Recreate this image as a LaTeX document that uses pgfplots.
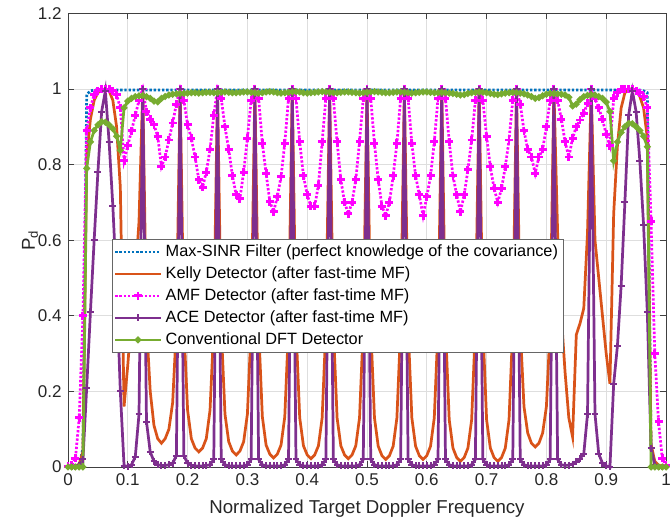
\documentclass[border=0pt]{standalone}
\usepackage{fontspec}
\setmainfont{Liberation Sans}
\usepackage{pgfplots}
\usepackage{pgfplotstable}
\pgfplotsset{compat=1.18}

\definecolor{sinrc}{RGB}{0,114,189}
\definecolor{kellyc}{RGB}{217,83,25}
\definecolor{amfc}{RGB}{255,0,255}
\definecolor{acec}{RGB}{126,47,142}
\definecolor{dftc}{RGB}{119,172,48}

% Pd vs normalized Doppler, grid step 1/160
\pgfplotstableread{
x kelly amf ace dft sinr
0 0 0.002 0 0 0
0.00625 0 0.005 0 0 0
0.0125 0.002 0.023 0 0 0
0.01875 0.008 0.13 0.005 0 0.003
0.025 0.04 0.4 0.02 0 0.05
0.03125 0.82 0.89 0.21 0.79 0.985
0.0375 0.92 0.95 0.41 0.86 0.995
0.04375 0.97 0.985 0.60 0.89 0.997
0.05 0.99 0.995 0.78 0.905 0.997
0.05625 0.998 1.0 0.94 0.913 0.997
0.0625 1.0 1.0 0.995 0.912 0.997
0.06875 0.995 1.0 0.86 0.905 0.997
0.075 0.97 0.995 0.69 0.895 0.997
0.08125 0.9 0.985 0.48 0.875 0.997
0.0875 0.74 0.95 0.2 0.838 0.997
0.09375 0.16 0.81 0.003 0.95 0.997
0.1 0.27 0.85 0.002 0.968 0.997
0.10625 0.4 0.89 0.006 0.975 0.997
0.1125 0.5 0.93 0.027 0.98 0.997
0.11875 0.65 0.97 0.14 0.982 0.997
0.125 1 1 1 0.983 0.997
0.13125 0.38 0.94 0.12 0.98 0.997
0.1375 0.2 0.92 0.04 0.975 0.997
0.14375 0.11 0.905 0.015 0.968 0.997
0.15 0.075 0.875 0.006 0.966 0.997
0.15625 0.063 0.795 0.004 0.975 0.997
0.1625 0.075 0.82 0.004 0.98 0.997
0.16875 0.1 0.865 0.006 0.984 0.997
0.175 0.17 0.91 0.01 0.986 0.997
0.18125 0.37 0.96 0.03 0.987 0.997
0.1875 1 1 1 0.988 0.997
0.19375 0.37 0.97 0.03 0.988 0.997
0.2 0.15 0.905 0.01 0.989 0.997
0.20625 0.075 0.87 0.004 0.99 0.997
0.2125 0.05 0.82 0.003 0.99 0.997
0.21875 0.04 0.76 0.003 0.989 0.997
0.225 0.05 0.74 0.003 0.99 0.997
0.23125 0.075 0.78 0.004 0.991 0.997
0.2375 0.15 0.84 0.006 0.991 0.997
0.24375 0.37 0.93 0.02 0.99 0.997
0.25 1 1 1 0.99 0.997
0.25625 0.37 0.975 0.02 0.991 0.997
0.2625 0.14 0.9 0.006 0.992 0.997
0.26875 0.067 0.84 0.003 0.991 0.997
0.275 0.042 0.77 0.003 0.99 0.997
0.28125 0.032 0.72 0.003 0.99 0.997
0.2875 0.042 0.71 0.003 0.991 0.997
0.29375 0.067 0.78 0.003 0.992 0.997
0.3 0.14 0.87 0.006 0.992 0.997
0.30625 0.37 0.97 0.02 0.991 0.997
0.3125 1 1 1 0.99 0.997
0.31875 0.37 0.975 0.02 0.989 0.997
0.325 0.133 0.856 0.006 0.99 0.997
0.33125 0.058 0.777 0.003 0.992 0.997
0.3375 0.034 0.702 0.003 0.993 0.997
0.34375 0.024 0.675 0.003 0.992 0.997
0.35 0.034 0.715 0.003 0.99 0.997
0.35625 0.058 0.768 0.003 0.989 0.997
0.3625 0.133 0.856 0.006 0.99 0.997
0.36875 0.37 0.975 0.02 0.991 0.997
0.375 1 1 1 0.992 0.997
0.38125 0.37 0.975 0.02 0.993 0.997
0.3875 0.13 0.86 0.006 0.992 0.997
0.39375 0.056 0.77 0.003 0.99 0.997
0.4 0.032 0.72 0.003 0.989 0.997
0.40625 0.022 0.69 0.003 0.99 0.997
0.4125 0.032 0.69 0.003 0.991 0.997
0.41875 0.056 0.745 0.003 0.992 0.997
0.425 0.13 0.86 0.006 0.993 0.997
0.43125 0.37 0.975 0.02 0.992 0.997
0.4375 1 1 1 0.991 0.997
0.44375 0.37 0.975 0.02 0.99 0.997
0.45 0.13 0.86 0.006 0.99 0.997
0.45625 0.056 0.76 0.003 0.991 0.997
0.4625 0.032 0.70 0.003 0.992 0.997
0.46875 0.022 0.67 0.003 0.992 0.997
0.475 0.032 0.70 0.003 0.991 0.997
0.48125 0.056 0.76 0.003 0.99 0.997
0.4875 0.13 0.86 0.006 0.989 0.997
0.49375 0.37 0.975 0.02 0.99 0.997
0.5 1 1 1 0.991 0.997
0.50625 0.37 0.975 0.02 0.992 0.997
0.5125 0.13 0.856 0.006 0.993 0.997
0.51875 0.055 0.76 0.003 0.992 0.997
0.525 0.03 0.69 0.003 0.991 0.997
0.53125 0.02 0.665 0.003 0.99 0.997
0.5375 0.03 0.70 0.003 0.99 0.997
0.54375 0.055 0.77 0.003 0.991 0.997
0.55 0.13 0.856 0.006 0.992 0.997
0.55625 0.37 0.975 0.02 0.992 0.997
0.5625 1 1 1 0.991 0.997
0.56875 0.37 0.975 0.02 0.99 0.997
0.575 0.13 0.856 0.006 0.989 0.997
0.58125 0.055 0.77 0.003 0.99 0.997
0.5875 0.03 0.72 0.003 0.991 0.997
0.59375 0.02 0.665 0.003 0.992 0.997
0.6 0.03 0.715 0.003 0.992 0.997
0.60625 0.055 0.77 0.003 0.991 0.997
0.6125 0.13 0.86 0.006 0.99 0.997
0.61875 0.37 0.975 0.02 0.99 0.997
0.625 1 1 1 0.991 0.997
0.63125 0.37 0.975 0.02 0.99 0.997
0.6375 0.125 0.86 0.006 0.989 0.997
0.64375 0.05 0.77 0.003 0.988 0.997
0.65 0.025 0.72 0.003 0.986 0.997
0.65625 0.015 0.675 0.003 0.984 0.997
0.6625 0.025 0.72 0.003 0.985 0.997
0.66875 0.05 0.786 0.003 0.988 0.997
0.675 0.125 0.865 0.006 0.99 0.997
0.68125 0.37 0.97 0.02 0.991 0.997
0.6875 1 1 1 0.992 0.997
0.69375 0.37 0.97 0.02 0.991 0.997
0.7 0.125 0.874 0.006 0.99 0.997
0.70625 0.05 0.794 0.003 0.988 0.997
0.7125 0.025 0.737 0.003 0.986 0.997
0.71875 0.015 0.70 0.003 0.985 0.997
0.725 0.025 0.737 0.003 0.987 0.997
0.73125 0.05 0.794 0.003 0.989 0.997
0.7375 0.125 0.865 0.006 0.99 0.997
0.74375 0.37 0.97 0.02 0.991 0.997
0.75 1 1 1 0.99 0.997
0.75625 0.37 0.96 0.02 0.989 0.997
0.7625 0.16 0.89 0.006 0.987 0.997
0.76875 0.09 0.84 0.003 0.984 0.997
0.775 0.063 0.82 0.003 0.98 0.997
0.78125 0.053 0.777 0.003 0.975 0.997
0.7875 0.063 0.82 0.003 0.977 0.997
0.79375 0.09 0.84 0.003 0.982 0.997
0.8 0.16 0.9 0.006 0.986 0.997
0.80625 0.37 0.97 0.02 0.988 0.997
0.8125 1 1 1 0.988 0.997
0.81875 0.62 0.97 0.02 0.987 0.997
0.825 0.4 0.92 0.006 0.986 0.997
0.83125 0.25 0.86 0.004 0.984 0.997
0.8375 0.13 0.82 0.005 0.978 0.997
0.84375 0.08 0.87 0.008 0.955 0.997
0.85 0.35 0.9 0.014 0.96 0.997
0.85625 0.38 0.918 0.022 0.972 0.997
0.8625 0.42 0.936 0.035 0.98 0.997
0.86875 0.62 0.962 0.14 0.983 0.997
0.875 1 1 1 0.985 0.997
0.88125 0.6 0.975 0.14 0.984 0.997
0.8875 0.5 0.95 0.035 0.98 0.997
0.89375 0.4 0.92 0.01 0.975 0.997
0.9 0.3 0.88 0.003 0.965 0.997
0.90625 0.22 0.85 0 0.94 0.997
0.9125 0.67 0.975 0.22 0.81 0.997
0.91875 0.85 0.99 0.32 0.86 0.997
0.925 0.95 1.0 0.48 0.885 0.997
0.93125 0.99 1.0 0.70 0.9 0.997
0.9375 1.0 1.0 0.93 0.909 0.997
0.94375 1.0 1.0 0.995 0.908 0.997
0.95 0.995 0.995 0.94 0.9 0.997
0.95625 0.98 0.99 0.81 0.89 0.997
0.9625 0.95 0.98 0.64 0.875 0.995
0.96875 0.87 0.95 0.41 0.847 0.99
0.975 0.06 0.65 0.05 0 0.05
0.98125 0.015 0.30 0.005 0 0.01
0.9875 0.005 0.12 0 0 0.003
0.99375 0.002 0.023 0 0 0
1 0 0.005 0 0 0
}\data

\begin{document}
\begin{tikzpicture}
\begin{axis}[
    scale only axis,
    width=328.9bp, height=249.5bp,
    xmin=0, xmax=1, ymin=0, ymax=1.2,
    xtick={0,0.1,0.2,0.3,0.4,0.5,0.6,0.7,0.8,0.9,1},
    ytick={0,0.2,0.4,0.6,0.8,1,1.2},
    tick align=inside,
    major tick length=3.3bp,
    grid=major,
    major grid style={black!13, line width=0.5bp},
    axis line style={black!75, line width=0.5bp},
    tick style={black!75, line width=0.5bp},
    ticklabel style={font=\fontsize{9.4}{11}\selectfont, text=black!85},
    /pgf/number format/assume math mode=true,
    clip=false,
    xlabel={Normalized Target Doppler Frequency},
    xlabel style={font=\fontsize{10.3}{12}\selectfont, text=black!85,
        at={(axis description cs:0.5,-0.0926)}, anchor=center},
    ylabel={P\textsubscript{d}},
    ylabel style={font=\fontsize{10.3}{12}\selectfont, text=black!85,
        at={(axis description cs:-0.0635,0.5)}, anchor=center},
    legend cell align=left,
    legend style={at={(0.0736,0.5026)}, anchor=north west,
        draw=black!60, line width=0.5bp, fill=white,
        inner sep=0.8bp, row sep=0pt,
        font=\fontsize{9}{10}\selectfont,
        nodes={inner xsep=2bp, inner ysep=2bp, text height=6.4bp, text depth=1.7bp}},
    legend image code/.code={
        \draw[mark repeat=2,mark phase=2,#1]
        plot coordinates {(0bp,0bp) (12.5bp,0bp) (25bp,0bp)};},
]
\addplot[sinrc, line width=1.5bp, dash pattern=on 1.3bp off 1bp]
    table[x=x, y=sinr]{\data};
\addlegendentry{Max-SINR Filter (perfect knowledge of the covariance)}

\addplot[kellyc, line width=1.5bp]
    table[x=x, y=kelly]{\data};
\addlegendentry{Kelly Detector (after fast-time MF)}

\addplot[amfc, line width=1.5bp, dash pattern=on 1.3bp off 1bp,
    mark=+, mark size=2.2bp, mark options={solid, line width=1.6bp}]
    table[x=x, y=amf]{\data};
\addlegendentry{AMF Detector (after fast-time MF)}

\addplot[acec, line width=1.5bp,
    mark=+, mark size=1.9bp, mark options={line width=1.1bp}]
    table[x=x, y=ace]{\data};
\addlegendentry{ACE Detector (after fast-time MF)}

\addplot[dftc, line width=1.5bp, mark=*, mark size=1bp]
    table[x=x, y=dft]{\data};
\addlegendentry{Conventional DFT Detector}
\end{axis}
\pgfresetboundingbox
\path (current axis.south west) ++(-37.4bp,-29.7bp) rectangle ++(369.05bp,286.55bp);
\end{tikzpicture}
\end{document}
